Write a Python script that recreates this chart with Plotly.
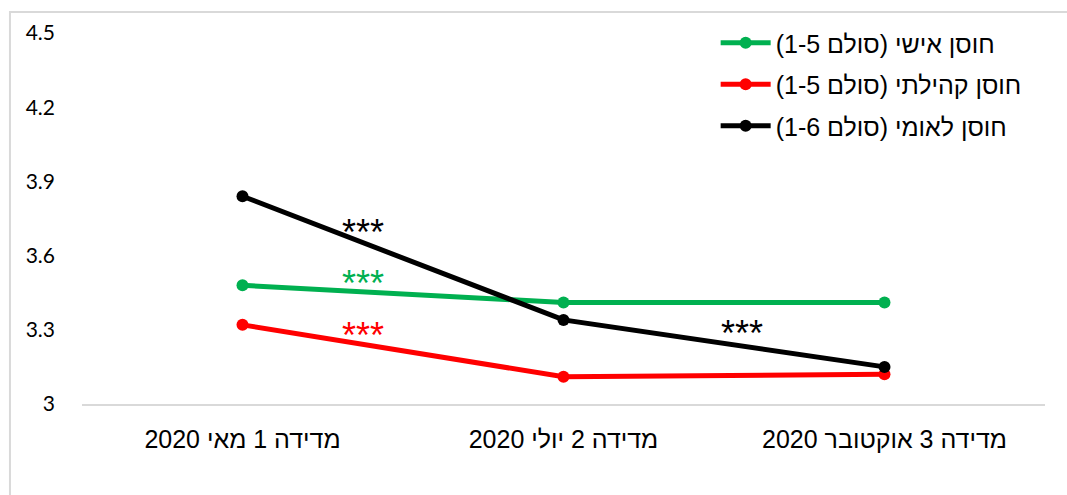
import plotly.graph_objects as go

categories = ["מדידה 1 מאי 2020", "מדידה 2 יולי 2020", "מדידה 3 אוקטובר 2020"]
series_names = ["חוסן אישי (סולם 1-5)", "חוסן קהילתי (סולם 1-5)", "חוסן לאומי (סולם 1-6)"]
personal = [3.48, 3.41, 3.41]
community = [3.32, 3.11, 3.12]
national = [3.84, 3.34, 3.15]
y_ticks = [3, 3.3, 3.6, 3.9, 4.2, 4.5]
y_tick_labels = ["3", "3.3", "3.6", "3.9", "4.2", "4.5"]

colors = ["#00B050", "#FF0000", "#000000"]
values = [personal, community, national]

fig = go.Figure()
for i, (name, vals, col) in enumerate(zip(series_names, values, colors)):
    fig.add_trace(go.Scatter(
        x=list(range(len(categories))), y=vals, name=name, mode="lines+markers",
        line=dict(color=col, width=5), marker=dict(color=col, size=12),
        legendgroup=f"g{i}",
    ))

# significance stars
stars = [
    (0.374, 3.692, "#000000"),
    (0.374, 3.489, "#00B050"),
    (0.374, 3.275, "#FF0000"),
    (1.555, 3.287, "#000000"),
]
for x, y, c in stars:
    fig.add_annotation(x=x, y=y, xref="x", yref="y", text="***", showarrow=False,
                       font=dict(family="Liberation Sans", size=36, color=c))

fig.update_layout(
    width=1067, height=495,
    margin=dict(l=82, r=22, t=33, b=91),
    paper_bgcolor="white", plot_bgcolor="white",
    showlegend=True,
    legend=dict(x=0.658, y=1.035, xanchor="left", yanchor="top",
                font=dict(family="Liberation Sans", size=25, color="#000"),
                tracegroupgap=6, itemwidth=50, bgcolor="rgba(0,0,0,0)"),
    xaxis=dict(range=[-0.5, 2.5], tickvals=[0, 1, 2], ticktext=categories,
               showgrid=False, zeroline=False, showline=True, linecolor="#d9d9d9",
               linewidth=2, ticks="", ticklabelstandoff=12, automargin=False,
               tickfont=dict(family="Liberation Sans", size=25, color="#000")),
    yaxis=dict(range=[3, 4.5], tickvals=y_ticks, ticktext=y_tick_labels,
               showgrid=False, zeroline=False, showline=False, ticks="",
               ticklabelstandoff=26, automargin=False,
               tickfont=dict(family="Lato", size=21, color="#000")),
    shapes=[dict(type="rect", xref="paper", yref="paper", x0=-0.0748, x1=1.1,
                 y0=-0.4, y1=1.0566, line=dict(color="#d9d9d9", width=2),
                 layer="below")],
)

fig.write_html("out.html", config={"displayModeBar": False},
               post_script="document.body.style.margin='0';")
